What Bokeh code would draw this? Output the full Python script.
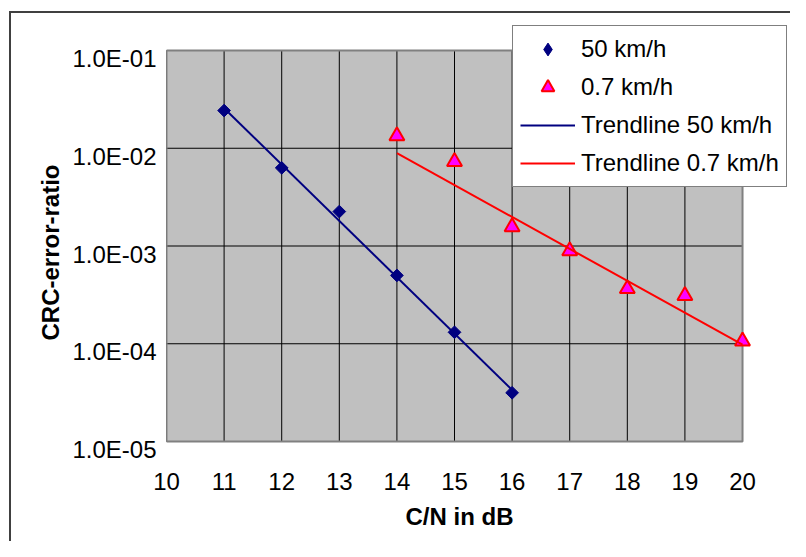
import math
from bokeh.plotting import figure
from bokeh.models import (FixedTicker, CustomJSTickFormatter, Legend, LegendItem,
                          LogAxis, LogScale, Range1d, Title)
from bokeh.embed import file_html
from bokeh.resources import INLINE

# ---- data ----
x_50 = [11, 12, 13, 14, 15, 16]
y_50 = [2.43e-2, 6.3e-3, 2.25e-3, 5.0e-4, 1.31e-4, 3.15e-5]

x_07 = [14, 15, 16, 17, 18, 19, 20]
y_07 = [1.34e-2, 7.3e-3, 1.57e-3, 8.9e-4, 3.65e-4, 3.1e-4, 1.06e-4]

trend_50_x = [11, 16]
trend_50_y = [2.57e-2, 3.37e-5]
trend_07_x = [14, 20]
trend_07_y = [8.9e-3, 9.8e-5]

x_ticks = [10, 11, 12, 13, 14, 15, 16, 17, 18, 19, 20]
y_ticks = [1e-5, 1e-4, 1e-3, 1e-2, 1e-1]
y_tick_labels = ["1.0E-05", "1.0E-04", "1.0E-03", "1.0E-02", "1.0E-01"]

series_names = ["50 km/h", "0.7 km/h", "Trendline 50 km/h", "Trendline 0.7 km/h"]
x_title = "C/N in dB"
y_title = "CRC-error-ratio"

FONT = "Liberation Sans"

x0, x1 = x_ticks[0], x_ticks[-1]
y0, y1 = y_ticks[0], y_ticks[-1]

# ---- layout (pixels) ----
PX_DEC = 97.75          # pixels per decade of the plot area
PAD_TOP = 28            # frame space above the plot area (room for the legend)
PAD_BOTTOM = 9          # frame space below the plot area
LABEL_SHIFT = 8         # y tick labels sit a little below their gridlines
y_lo = 10 ** (math.log10(y0) - PAD_BOTTOM / PX_DEC)
y_hi = 10 ** (math.log10(y1) + PAD_TOP / PX_DEC)
k = 10 ** (LABEL_SHIFT / PX_DEC)

p = figure(width=790, height=541, x_range=(x0, 20.833), y_range=(y_lo, y_hi),
           y_axis_type="log", y_axis_location=None,
           output_backend="svg", toolbar_location=None, title=None,
           min_border_left=166, min_border_right=0,
           min_border_top=22, min_border_bottom=91)
# chart-area border (left and top edges) painted behind the transparent canvas
p.styles = {"background": "linear-gradient(#404040, #404040) 9px 11px / 2px 100% no-repeat, "
                          "linear-gradient(#404040, #404040) 9px 11px / 100% 2px no-repeat, white"}

p.background_fill_color = None
p.border_fill_color = None
p.outline_line_color = None
p.grid.visible = False

# grey plot area
p.quad(left=[x0], right=[x1], bottom=[y0], top=[y1],
       fill_color="#C0C0C0", line_color=None)
# grid lines
p.segment(x0=x_ticks, y0=[y0] * len(x_ticks), x1=x_ticks, y1=[y1] * len(x_ticks),
          line_color="black", line_width=1)
p.segment(x0=[x0] * len(y_ticks), y0=y_ticks, x1=[x1] * len(y_ticks), y1=y_ticks,
          line_color="black", line_width=1)
# plot-area outline
p.quad(left=[x0], right=[x1], bottom=[y0], top=[y1],
       fill_color=None, line_color="#808080", line_width=2)

# y axis (labels drawn slightly below the gridlines, as in the reference)
p.extra_y_ranges = {"lab": Range1d(y_lo * k, y_hi * k)}
p.extra_y_scales = {"lab": LogScale()}
yax = LogAxis(y_range_name="lab")
yax.ticker = FixedTicker(ticks=y_ticks, minor_ticks=[])
yax.formatter = CustomJSTickFormatter(
    args=dict(vals=y_ticks, labs=y_tick_labels),
    code="""
let best = 0, d = Infinity;
for (let i = 0; i < vals.length; i++) {
  const e = Math.abs(Math.log10(vals[i]) - Math.log10(tick));
  if (e < d) { d = e; best = i; }
}
return labs[best];
""")
p.add_layout(yax, "left")

p.xaxis.ticker = FixedTicker(ticks=x_ticks, minor_ticks=[])

for ax in (p.xaxis[0], yax):
    ax.axis_line_color = None
    ax.major_tick_line_color = None
    ax.minor_tick_line_color = None
    ax.major_tick_out = 0
    ax.major_tick_in = 0
    ax.minor_tick_out = 0
    ax.minor_tick_in = 0
    ax.major_label_text_font = FONT
    ax.major_label_text_font_size = "24px"
    ax.major_label_text_color = "black"
p.xaxis.major_label_standoff = 22
yax.major_label_standoff = 10

# axis titles
p.add_layout(Title(text=x_title, align="left", offset=239, vertical_align="top",
                   standoff=20, text_font=FONT, text_font_size="24px",
                   text_font_style="bold", text_color="black"), "below")
p.add_layout(Title(text=y_title, align="left", offset=110, vertical_align="middle",
                   standoff=10, text_font=FONT, text_font_size="24px",
                   text_font_style="bold", text_color="black"), "left")

# data
p.scatter(x_50, y_50, marker="square", angle=math.pi / 4, size=9,
          fill_color="#000080", line_color="#000080")
r1 = p.scatter(x_50, y_50, marker="diamond", fill_color="#000080",
               line_color="#000080", visible=False)   # legend swatch only
r2 = p.scatter(x_07, y_07, marker="triangle", size=15,
               fill_color="#FF00FF", line_color="#FF0000", line_width=2)
r3 = p.line(trend_50_x, trend_50_y, line_color="#000080", line_width=2)
r4 = p.line(trend_07_x, trend_07_y, line_color="#FF0000", line_width=2)

legend = Legend(items=[LegendItem(label=series_names[0], renderers=[r1]),
                       LegendItem(label=series_names[1], renderers=[r2]),
                       LegendItem(label=series_names[2], renderers=[r3]),
                       LegendItem(label=series_names[3], renderers=[r4])],
                location=(346, 263))
legend.border_line_color = "black"
legend.border_line_width = 1
legend.background_fill_color = "white"
legend.background_fill_alpha = 1
legend.inactive_fill_alpha = 0
legend.label_text_font = FONT
legend.label_text_font_size = "24px"
legend.label_text_color = "black"
legend.glyph_width = 55
legend.glyph_height = 32
legend.label_height = 32
legend.spacing = 6
legend.padding = 7
legend.margin = 0
legend.label_standoff = 6
p.add_layout(legend)

open("out.html", "w").write(file_html(p, INLINE))
